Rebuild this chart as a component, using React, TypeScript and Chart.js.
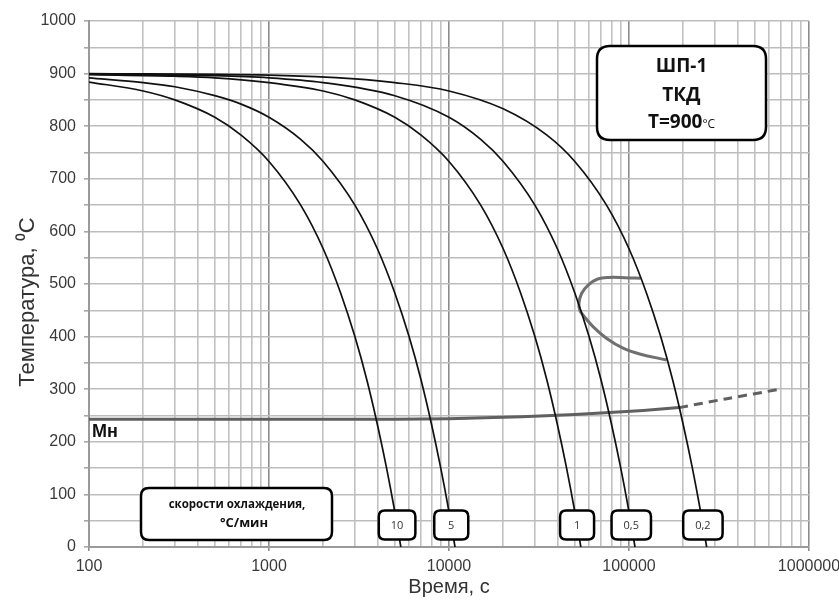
import { useEffect, useRef } from 'react';
import { Chart, registerables } from 'chart.js';

Chart.register(...registerables);

// cooling rates, °C/min, in the same order as the cooling curves
const rateLabels = ['10', '5', '1', '0,5', '0,2'];

// cooling curves: [time, s ; temperature, °C]
const curve10: number[][] = [
  [100, 884], [200, 867], [300, 850], [500, 817], [700, 783], [1000, 733], [1500, 650],
  [2000, 567], [2500, 483], [3000, 400], [3500, 317], [4000, 233], [4500, 150], [5000, 67], [5400, 0],
];
const curve5: number[][] = [
  [100, 892], [200, 883], [300, 875], [500, 858], [700, 842], [1000, 817], [1500, 775], [2000, 733],
  [3000, 650], [4000, 567], [5000, 483], [6000, 400], [7000, 317], [8000, 233], [9000, 150], [10000, 67], [10800, 0],
];
const curve1: number[][] = [
  [100, 898], [300, 895], [500, 892], [1000, 883], [2000, 867], [3000, 850], [5000, 817], [7000, 783],
  [10000, 733], [15000, 650], [20000, 567], [25000, 483], [30000, 400], [35000, 317], [40000, 233],
  [45000, 150], [50000, 67], [54000, 0],
];
const curve05: number[][] = [
  [100, 899], [500, 896], [1000, 892], [2000, 883], [5000, 858], [10000, 817], [15000, 775], [20000, 733],
  [30000, 650], [40000, 567], [50000, 483], [60000, 400], [70000, 317], [80000, 233], [90000, 150],
  [100000, 67], [108000, 0],
];
const curve02: number[][] = [
  [100, 900], [1000, 897], [3000, 890], [5000, 883], [10000, 867], [20000, 833], [35000, 783], [50000, 733],
  [75000, 650], [100000, 567], [125000, 483], [150000, 400], [175000, 317], [200000, 233], [225000, 150],
  [250000, 67], [270000, 0],
];

// martensite start line (Мн), measured part and extrapolated part
const msSolid: number[][] = [
  [100, 243], [5000, 243], [10000, 244], [20000, 246.5], [32000, 249], [50000, 252], [78000, 255.5],
  [120000, 259.5], [190000, 265],
];
const msDashed: number[][] = [[190000, 265], [350000, 282], [690000, 300]];

// bainite transformation region (start / finish outline)
const bainite: number[][] = [
  [116000, 511], [95000, 512], [78000, 512.5], [67000, 509.5], [59300, 498], [54500, 482], [52700, 463],
  [53300, 450], [55500, 441], [63100, 419], [74900, 397], [92700, 378], [114600, 367], [162000, 355.5],
];

const decadeStarts = [100, 1000, 10000, 100000];
const xMin = 100;
const xMax = 1000000;
const yMin = 0;
const yMax = 1000;

const FONT = '"Liberation Sans", Arial, sans-serif';
const BOX_FONT = '"Open Sans", "Liberation Sans", sans-serif';

const toPoints = (rows: number[][]) => rows.map(([x, y]) => ({ x, y }));
const isDecade = (v: number) => Math.abs(Math.log10(v) - Math.round(Math.log10(v))) < 1e-6;

function roundedBox(ctx: CanvasRenderingContext2D, x: number, y: number, w: number, h: number, r: number, lw: number) {
  ctx.beginPath();
  ctx.moveTo(x + r, y);
  ctx.lineTo(x + w - r, y);
  ctx.quadraticCurveTo(x + w, y, x + w, y + r);
  ctx.lineTo(x + w, y + h - r);
  ctx.quadraticCurveTo(x + w, y + h, x + w - r, y + h);
  ctx.lineTo(x + r, y + h);
  ctx.quadraticCurveTo(x, y + h, x, y + h - r);
  ctx.lineTo(x, y + r);
  ctx.quadraticCurveTo(x, y, x + r, y);
  ctx.closePath();
  ctx.fillStyle = '#ffffff';
  ctx.fill();
  ctx.lineWidth = lw;
  ctx.strokeStyle = '#000000';
  ctx.stroke();
}

const overlay = {
  id: 'overlay',
  afterDatasetsDraw(chart: any) {
    const { ctx, chartArea: ca, scales } = chart;
    const ys = scales.y;
    ctx.save();

    // Мн label under the martensite line
    ctx.fillStyle = '#111';
    ctx.font = `bold 18px ${FONT}`;
    ctx.textAlign = 'left';
    ctx.textBaseline = 'alphabetic';
    ctx.fillText('Мн', ca.left + 3, ys.getPixelForValue(msSolid[0][1]) + 18);

    // rate tags where each cooling curve meets the tag row
    const tagY = ca.bottom - 22;
    rateLabels.forEach((lab, i) => {
      const pts = chart.getDatasetMeta(i).data;
      let xc = pts[pts.length - 1].x;
      for (let k = 1; k < pts.length; k++) {
        const a = pts[k - 1];
        const b = pts[k];
        if ((a.y - tagY) * (b.y - tagY) <= 0 && a.y !== b.y) {
          xc = a.x + ((tagY - a.y) * (b.x - a.x)) / (b.y - a.y);
          break;
        }
      }
      ctx.font = `11px ${BOX_FONT}`;
      const tw = ctx.measureText(lab).width;
      const w = Math.max(34, tw + 24);
      const h = 29;
      roundedBox(ctx, xc - w / 2, tagY - h / 2, w, h, 6, 2.5);
      ctx.fillStyle = '#333';
      ctx.textAlign = 'center';
      ctx.textBaseline = 'middle';
      ctx.fillText(lab, xc, tagY + 1);
    });

    // caption box for the tags
    const bx = ca.left + 52;
    const by = ca.bottom - 59;
    roundedBox(ctx, bx, by, 191, 52, 8, 2.5);
    ctx.fillStyle = '#111';
    ctx.textAlign = 'center';
    ctx.textBaseline = 'middle';
    ctx.font = `bold 11.5px ${BOX_FONT}`;
    ctx.fillText('скорости охлаждения,', bx + 96, by + 17);
    ctx.font = `bold 13px ${BOX_FONT}`;
    ctx.fillText('°С/мин', bx + 103, by + 35);

    // steel / process box
    const tx = ca.left + 508;
    const ty = ca.top + 25;
    const tw = 169;
    roundedBox(ctx, tx, ty, tw, 94, 13, 2.5);
    const cx = tx + tw / 2;
    ctx.fillStyle = '#111';
    ctx.font = `bold 19px ${BOX_FONT}`;
    ctx.fillText('ШП-1', cx, ty + 21);
    ctx.fillText('ТКД', cx, ty + 50);
    const main = 'Т=900';
    const unit = '°C';
    ctx.font = `bold 19px ${BOX_FONT}`;
    const mw = ctx.measureText(main).width;
    ctx.font = `12px ${BOX_FONT}`;
    const uw = ctx.measureText(unit).width;
    const sx = cx - (mw + uw) / 2;
    ctx.textAlign = 'left';
    ctx.textBaseline = 'alphabetic';
    ctx.font = `bold 19px ${BOX_FONT}`;
    ctx.fillText(main, sx, ty + 82);
    ctx.font = `12px ${BOX_FONT}`;
    ctx.fillText(unit, sx + mw, ty + 82);

    // vertical axis title
    ctx.translate(28, 302);
    ctx.rotate(-Math.PI / 2);
    ctx.font = `22px ${FONT}`;
    ctx.fillStyle = '#333';
    ctx.textAlign = 'center';
    ctx.textBaseline = 'middle';
    ctx.fillText('Температура, ⁰С', 0, 0);

    ctx.restore();
  },
};

export default function App() {
  const ref = useRef<HTMLCanvasElement | null>(null);

  useEffect(() => {
    document.body.style.margin = '0';
    const canvas = ref.current;
    if (!canvas) return;

    const xTicks: number[] = [];
    decadeStarts.forEach((d) => {
      for (let m = 1; m <= 9; m++) xTicks.push(d * m);
    });
    xTicks.push(xMax);

    const coolingSets = [curve10, curve5, curve1, curve05, curve02].map((rows, i) => ({
      label: rateLabels[i],
      data: toPoints(rows),
      borderColor: '#111111',
      borderWidth: 1.7,
      pointRadius: 0,
      fill: false,
      cubicInterpolationMode: 'monotone' as const,
    }));

    const chart = new Chart(canvas, {
      type: 'line',
      data: {
        datasets: [
          ...coolingSets,
          {
            label: 'Мн',
            data: toPoints(msSolid),
            borderColor: '#606060',
            borderWidth: 3,
            pointRadius: 0,
            tension: 0.3,
          },
          {
            label: 'Мн ext',
            data: toPoints(msDashed),
            borderColor: '#606060',
            borderWidth: 3,
            borderDash: [9, 6],
            pointRadius: 0,
            tension: 0.3,
          },
          {
            label: 'bainite',
            data: toPoints(bainite),
            borderColor: '#707070',
            borderWidth: 3,
            pointRadius: 0,
            tension: 0.4,
          },
        ] as any,
      },
      options: {
        animation: false,
        responsive: false,
        maintainAspectRatio: false,
        layout: { padding: { top: 21, right: 30, left: 0, bottom: 0 } },
        plugins: {
          legend: { display: false },
          tooltip: { enabled: false },
        },
        scales: {
          x: {
            type: 'logarithmic',
            min: xMin,
            max: xMax,
            afterBuildTicks: (s: any) => {
              s.ticks = xTicks.map((value) => ({ value, major: isDecade(value) }));
            },
            afterFit: (s: any) => {
              s.height = 54;
              s.paddingLeft = 0;
              s.paddingRight = 0;
            },
            ticks: {
              autoSkip: false,
              maxRotation: 0,
              minRotation: 0,
              padding: 6,
              color: '#3a3a3a',
              font: { family: FONT, size: 16 },
              callback: (v: any) => (isDecade(Number(v)) ? String(Number(v)) : ''),
            },
            grid: {
              color: (c: any) => (c.tick && isDecade(c.tick.value) ? '#8c8c8c' : '#c2c2c2'),
              lineWidth: 1.6,
              tickLength: 4,
              tickColor: (c: any) => (c.tick && isDecade(c.tick.value) ? '#8c8c8c' : 'rgba(0,0,0,0)'),
            },
            border: { color: '#9a9a9a', width: 2 },
            title: {
              display: true,
              text: 'Время, с',
              color: '#333',
              font: { family: FONT, size: 20 },
              padding: { top: 0, bottom: 2 },
            },
          },
          y: {
            type: 'linear',
            min: yMin,
            max: yMax,
            afterFit: (s: any) => {
              s.width = 89;
              s.paddingTop = 0;
              s.paddingBottom = 0;
            },
            ticks: {
              stepSize: 50,
              autoSkip: false,
              padding: 8,
              color: '#3a3a3a',
              font: { family: FONT, size: 16 },
              callback: (v: any) => (Number(v) % 100 === 0 ? String(v) : ''),
            },
            grid: {
              color: '#bdbdbd',
              lineWidth: 1.6,
              tickLength: 5,
              tickColor: '#a8a8a8',
            },
            border: { color: '#9a9a9a', width: 2 },
          },
        },
      } as any,
      plugins: [overlay],
    });

    return () => chart.destroy();
  }, []);

  return (
    <div style={{ width: 839, height: 601, background: '#fff' }}>
      <canvas ref={ref} width={839} height={601} style={{ display: 'block' }} />
    </div>
  );
}
